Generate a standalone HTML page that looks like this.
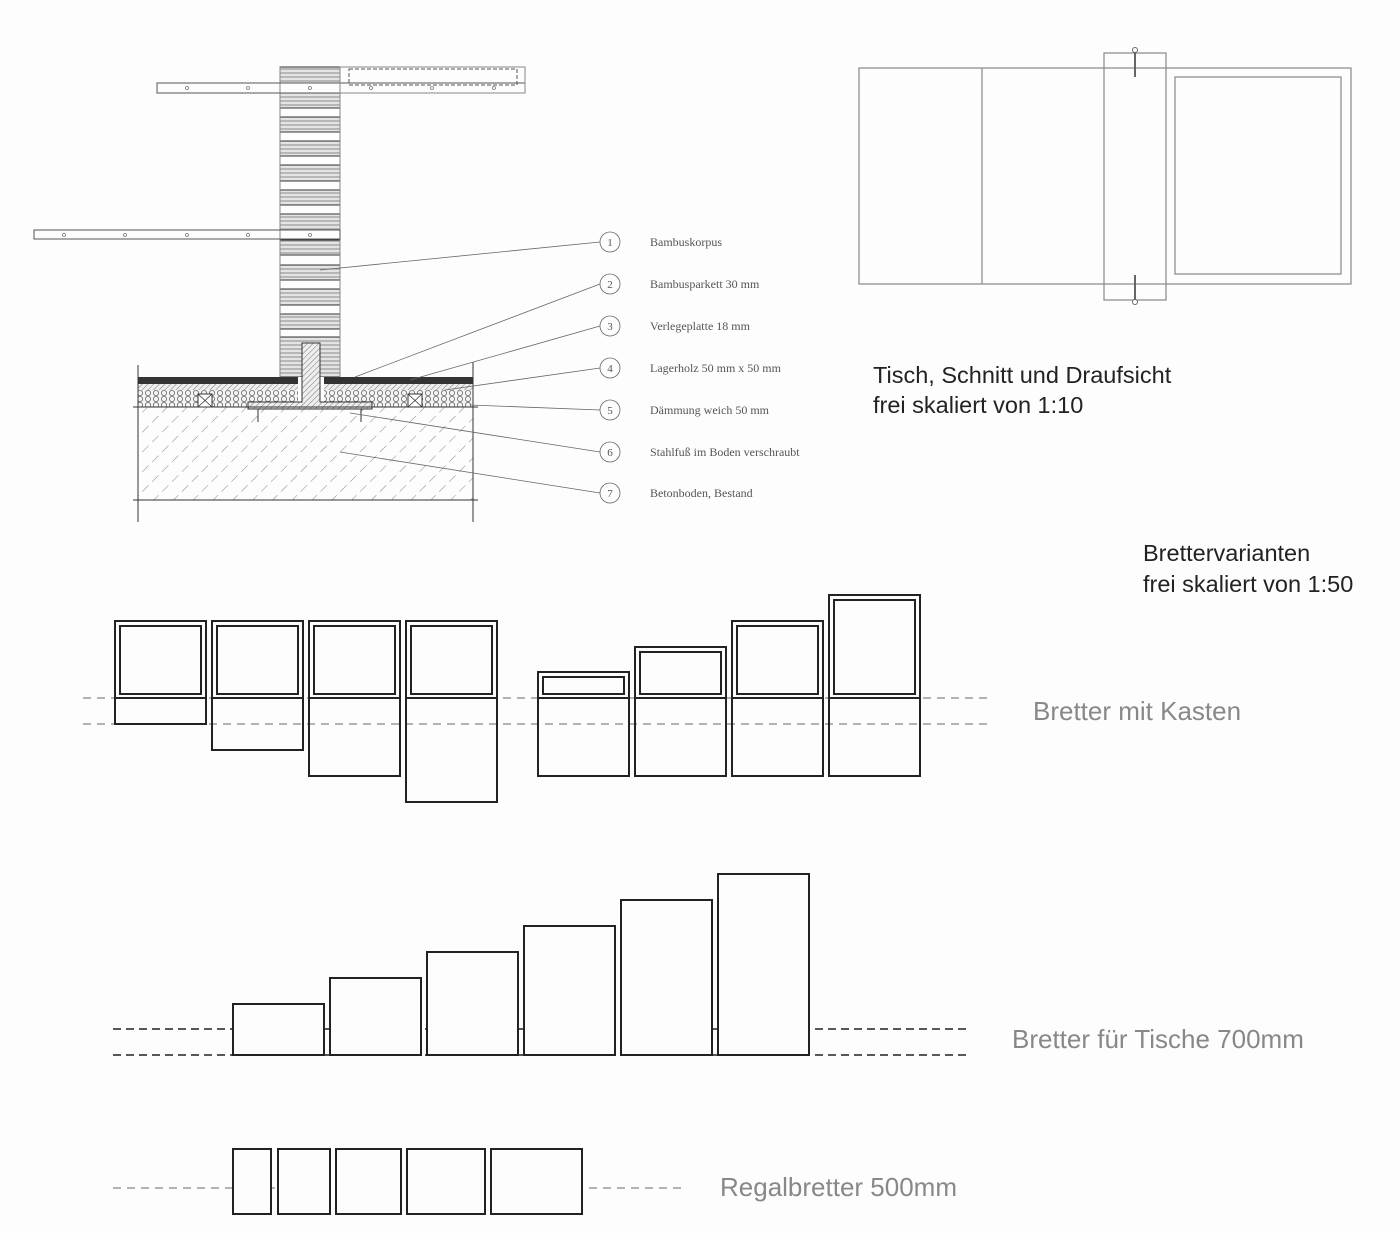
<!DOCTYPE html><html><head><meta charset="utf-8"><style>html,body{margin:0;padding:0;background:#fdfdfd}svg{display:block}</style></head><body>
<svg width="1400" height="1233" viewBox="0 0 1400 1233" xmlns="http://www.w3.org/2000/svg" font-family="Liberation Serif, serif">
<defs>
<pattern id="hl" width="6" height="4" patternUnits="userSpaceOnUse"><rect width="6" height="4" fill="#e4e4e4"/><line x1="0" y1="1" x2="6" y2="1" stroke="#999" stroke-width="1.2"/></pattern>
<pattern id="diag" width="14" height="14" patternUnits="userSpaceOnUse" patternTransform="rotate(45)"><line x1="0" y1="0" x2="0" y2="9" stroke="#666" stroke-width="0.8"/></pattern>
<pattern id="dg" width="4" height="4" patternUnits="userSpaceOnUse" patternTransform="rotate(45)"><rect width="4" height="4" fill="#eee"/><line x1="0" y1="0" x2="0" y2="4" stroke="#777" stroke-width="1"/></pattern>
<pattern id="ins" width="8" height="6" patternUnits="userSpaceOnUse"><rect width="8" height="6" fill="#f4f4f4"/><circle cx="4" cy="3" r="2.6" fill="none" stroke="#666" stroke-width="0.8"/></pattern>
</defs>
<rect x="0" y="0" width="1400" height="1233" fill="#fdfdfd"/>
<g stroke="#333" stroke-width="1">
<rect x="280" y="67" width="60" height="16" fill="url(#hl)"/>
<rect x="280" y="93" width="60" height="15" fill="url(#hl)"/>
<rect x="280" y="117" width="60" height="15" fill="url(#hl)"/>
<rect x="280" y="141" width="60" height="15" fill="url(#hl)"/>
<rect x="280" y="165" width="60" height="16" fill="url(#hl)"/>
<rect x="280" y="190" width="60" height="15" fill="url(#hl)"/>
<rect x="280" y="214" width="60" height="16" fill="url(#hl)"/>
<rect x="280" y="240" width="60" height="15" fill="url(#hl)"/>
<rect x="280" y="265" width="60" height="15" fill="url(#hl)"/>
<rect x="280" y="289" width="60" height="16" fill="url(#hl)"/>
<rect x="280" y="314" width="60" height="15" fill="url(#hl)"/>
<rect x="280" y="337" width="60" height="40" fill="url(#hl)"/>
</g>
<g stroke="#888" stroke-width="1" fill="none">
<line x1="280" y1="67" x2="280" y2="377"/><line x1="340" y1="67" x2="340" y2="377"/>
<rect x="157" y="83" width="368" height="10" stroke="#555"/>
<rect x="340" y="67" width="185" height="26"/>
<rect x="349" y="69" width="168" height="16" stroke-dasharray="4,2" stroke="#555"/>
<rect x="34" y="230" width="306" height="9" stroke="#555"/>
</g>
<g fill="none" stroke="#777" stroke-width="0.8">
<circle cx="187" cy="88" r="1.5"/><circle cx="248" cy="88" r="1.5"/><circle cx="310" cy="88" r="1.5"/><circle cx="371" cy="88" r="1.5"/><circle cx="432" cy="88" r="1.5"/><circle cx="494" cy="88" r="1.5"/>
<circle cx="64" cy="235" r="1.5"/><circle cx="125" cy="235" r="1.5"/><circle cx="187" cy="235" r="1.5"/><circle cx="248" cy="235" r="1.5"/><circle cx="310" cy="235" r="1.5"/>
</g>
<rect x="138" y="407" width="335" height="93" fill="url(#diag)"/>
<rect x="138" y="377" width="335" height="7" fill="#333"/>
<rect x="138" y="384" width="335" height="6" fill="url(#dg)"/>
<rect x="138" y="390" width="335" height="17" fill="url(#ins)"/>
<g stroke="#333" fill="#fff" stroke-width="1"><rect x="198" y="394" width="14" height="13"/><rect x="408" y="394" width="14" height="13"/></g>
<g stroke="#333" stroke-width="0.8"><line x1="198" y1="394" x2="212" y2="407"/><line x1="212" y1="394" x2="198" y2="407"/><line x1="408" y1="394" x2="422" y2="407"/><line x1="422" y1="394" x2="408" y2="407"/></g>
<rect x="298" y="377" width="26" height="30" fill="#fff"/>
<path d="M302 343 H320 V402 H372 V409 H248 V402 H302 Z" fill="url(#dg)" stroke="#333" stroke-width="1"/>
<g stroke="#333" stroke-width="1"><line x1="133" y1="407" x2="478" y2="407"/><line x1="133" y1="500" x2="478" y2="500"/><line x1="138" y1="365" x2="138" y2="522"/><line x1="473" y1="362" x2="473" y2="522"/><line x1="258" y1="409" x2="258" y2="422"/><line x1="361" y1="409" x2="361" y2="422"/></g>
<g stroke="#666" stroke-width="0.8" fill="none">
<line x1="320" y1="270" x2="600" y2="242"/><line x1="355" y1="377" x2="600" y2="284"/><line x1="410" y1="380" x2="600" y2="326"/><line x1="445" y1="390" x2="600" y2="368"/><line x1="470" y1="405" x2="600" y2="410"/><line x1="350" y1="413" x2="600" y2="452"/><line x1="340" y1="452" x2="600" y2="493"/>
<circle cx="610" cy="242" r="10"/><circle cx="610" cy="284" r="10"/><circle cx="610" cy="326" r="10"/><circle cx="610" cy="368" r="10"/><circle cx="610" cy="410" r="10"/><circle cx="610" cy="452" r="10"/><circle cx="610" cy="493" r="10"/>
</g>
<g font-size="11" fill="#555" text-anchor="middle"><text x="610" y="246">1</text><text x="610" y="288">2</text><text x="610" y="330">3</text><text x="610" y="372">4</text><text x="610" y="414">5</text><text x="610" y="456">6</text><text x="610" y="497">7</text></g>
<g font-size="12" fill="#555"><text x="650" y="246">Bambuskorpus</text><text x="650" y="288">Bambusparkett 30 mm</text><text x="650" y="330">Verlegeplatte 18 mm</text><text x="650" y="372">Lagerholz 50 mm x 50 mm</text><text x="650" y="414">Dämmung weich 50 mm</text><text x="650" y="456">Stahlfuß im Boden verschraubt</text><text x="650" y="497">Betonboden, Bestand</text></g>
<g fill="none" stroke="#888" stroke-width="1.2">
<rect x="859" y="68" width="492" height="216"/>
<line x1="982" y1="68" x2="982" y2="284"/>
<rect x="1104" y="53" width="62" height="247"/>
<rect x="1175" y="77" width="166" height="197"/>
</g>
<g stroke="#666" stroke-width="2"><line x1="1135" y1="52" x2="1135" y2="77"/><line x1="1135" y1="275" x2="1135" y2="300"/></g>
<g fill="#fff" stroke="#666"><circle cx="1135" cy="50" r="2.5"/><circle cx="1135" cy="302" r="2.5"/></g>
<g font-family="Liberation Sans, sans-serif" font-size="23.5" fill="#222"><text x="873" y="383">Tisch, Schnitt und Draufsicht</text><text x="873" y="413">frei skaliert von 1:10</text>
<text x="1143" y="561">Brettervarianten</text><text x="1143" y="592">frei skaliert von 1:50</text></g>
<g stroke="#999" stroke-width="1.5" stroke-dasharray="8,6"><line x1="83" y1="698" x2="990" y2="698"/><line x1="83" y1="724" x2="990" y2="724"/></g>
<g fill="none" stroke="#222" stroke-width="2">
<rect x="115" y="621" width="91" height="77"/><rect x="120" y="626" width="81" height="68"/><rect x="115" y="698" width="91" height="26"/>
<rect x="212" y="621" width="91" height="77"/><rect x="217" y="626" width="81" height="68"/><rect x="212" y="698" width="91" height="52"/>
<rect x="309" y="621" width="91" height="77"/><rect x="314" y="626" width="81" height="68"/><rect x="309" y="698" width="91" height="78"/>
<rect x="406" y="621" width="91" height="77"/><rect x="411" y="626" width="81" height="68"/><rect x="406" y="698" width="91" height="104"/>
<rect x="538" y="672" width="91" height="26"/><rect x="543" y="677" width="81" height="17"/><rect x="538" y="698" width="91" height="78"/>
<rect x="635" y="647" width="91" height="51"/><rect x="640" y="652" width="81" height="42"/><rect x="635" y="698" width="91" height="78"/>
<rect x="732" y="621" width="91" height="77"/><rect x="737" y="626" width="81" height="68"/><rect x="732" y="698" width="91" height="78"/>
<rect x="829" y="595" width="91" height="103"/><rect x="834" y="600" width="81" height="94"/><rect x="829" y="698" width="91" height="78"/>
</g>
<g font-family="Liberation Sans, sans-serif" font-size="26" fill="#888"><text x="1033" y="720">Bretter mit Kasten</text><text x="1012" y="1048">Bretter für Tische 700mm</text><text x="720" y="1196">Regalbretter 500mm</text></g>
<g stroke="#222" stroke-width="1.5" stroke-dasharray="8,5"><line x1="113" y1="1029" x2="970" y2="1029"/><line x1="113" y1="1055" x2="970" y2="1055"/></g>
<g fill="#fdfdfd" stroke="#222" stroke-width="2">
<rect x="233" y="1004" width="91" height="51"/><rect x="330" y="978" width="91" height="77"/><rect x="427" y="952" width="91" height="103"/><rect x="524" y="926" width="91" height="129"/><rect x="621" y="900" width="91" height="155"/><rect x="718" y="874" width="91" height="181"/>
</g>
<g stroke="#999" stroke-width="1.5" stroke-dasharray="8,6"><line x1="113" y1="1188" x2="686" y2="1188"/></g>
<g fill="#fdfdfd" stroke="#222" stroke-width="2">
<rect x="233" y="1149" width="38" height="65"/><rect x="278" y="1149" width="52" height="65"/><rect x="336" y="1149" width="65" height="65"/><rect x="407" y="1149" width="78" height="65"/><rect x="491" y="1149" width="91" height="65"/>
</g>
</svg>
</body></html>
